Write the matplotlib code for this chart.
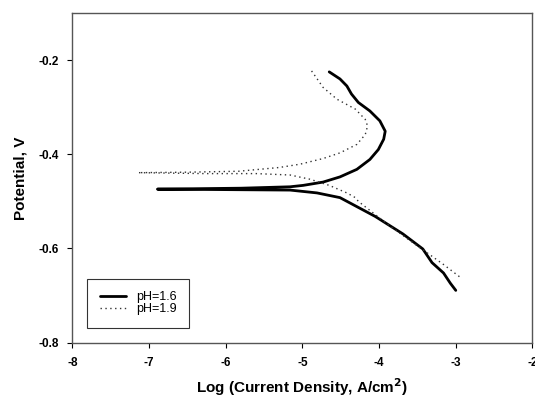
import matplotlib
matplotlib.use("Agg")
import matplotlib.pyplot as plt

plt.rcParams['font.family'] = ['Liberation Sans', 'DejaVu Sans']

# pH=1.6 (anodic branch from top down to Ecorr, then cathodic branch)
ph16_x = [-4.65, -4.51, -4.42, -4.36, -4.27, -4.12, -3.99, -3.92, -3.94, -4.01, -4.12, -4.29,
          -4.51, -4.73, -4.99, -5.16, -5.80, -6.89,
          -6.00, -5.16, -4.81, -4.51, -4.05, -3.69, -3.43, -3.31, -3.16, -3.07, -3.00]
ph16_y = [-0.225, -0.240, -0.255, -0.272, -0.290, -0.308, -0.329, -0.351, -0.368, -0.390, -0.411, -0.432,
          -0.448, -0.459, -0.466, -0.469, -0.472, -0.474,
          -0.475, -0.476, -0.482, -0.492, -0.532, -0.569, -0.601, -0.630, -0.652, -0.674, -0.689]

# pH=1.9
ph19_x = [-4.88, -4.73, -4.55, -4.31, -4.18, -4.15, -4.18, -4.29, -4.51, -4.73, -5.03, -5.30, -5.83, -6.50, -7.14,
          -6.27, -5.60, -5.16, -4.90, -4.65, -4.42, -4.31, -4.27, -3.87, -3.47, -3.16, -2.935]
ph19_y = [-0.223, -0.258, -0.283, -0.304, -0.326, -0.340, -0.358, -0.379, -0.397, -0.409, -0.421, -0.428, -0.436, -0.438, -0.439,
          -0.441, -0.441, -0.444, -0.453, -0.466, -0.482, -0.492, -0.500, -0.551, -0.598, -0.634, -0.662]

xticks = [-8, -7, -6, -5, -4, -3, -2]
yticks = [-0.8, -0.6, -0.4, -0.2]

fig = plt.figure(figsize=(5.35, 4.0), dpi=100)
ax = fig.add_axes([0.1351, 0.1433, 0.8602, 0.8242])

ax.plot(ph16_x, ph16_y, color='black', lw=2.0, label='pH=1.6',
        solid_joinstyle='round', solid_capstyle='round')
ax.plot(ph19_x, ph19_y, color='#333333', lw=1.0, ls=(0, (1, 2.5)), label='pH=1.9')

ax.set_xlim(-8, -2)
ax.set_ylim(-0.8, -0.1)
ax.set_xticks(xticks)
ax.set_xticklabels([f"{t:d}" for t in xticks])
ax.set_yticks(yticks)
ax.set_yticklabels([f"{t:.1f}" for t in yticks])
ax.tick_params(axis='x', direction='out', length=3.5, width=0.8, labelsize=8.5, pad=7)
ax.tick_params(axis='y', direction='out', length=3.5, width=0.8, labelsize=8.5, pad=6)
for lab in ax.get_xticklabels() + ax.get_yticklabels():
    lab.set_fontweight('bold')
for s in ax.spines.values():
    s.set_linewidth(1.0)
    s.set_color('#555555')

ax.set_xlabel('Log (Current Density, A/cm$^\\mathbf{2}$)', fontsize=11, fontweight='bold', labelpad=5)
ax.set_ylabel('Potential, V', fontsize=11, fontweight='bold', labelpad=8)

leg = ax.legend(loc='lower left', bbox_to_anchor=(0.032, 0.045), borderaxespad=0,
                fontsize=9, frameon=True, fancybox=False, edgecolor='black',
                handlelength=2.1, handletextpad=0.8, borderpad=1.0, labelspacing=0.0)
leg.get_frame().set_linewidth(0.8)

fig.savefig('out.png', dpi=100)
